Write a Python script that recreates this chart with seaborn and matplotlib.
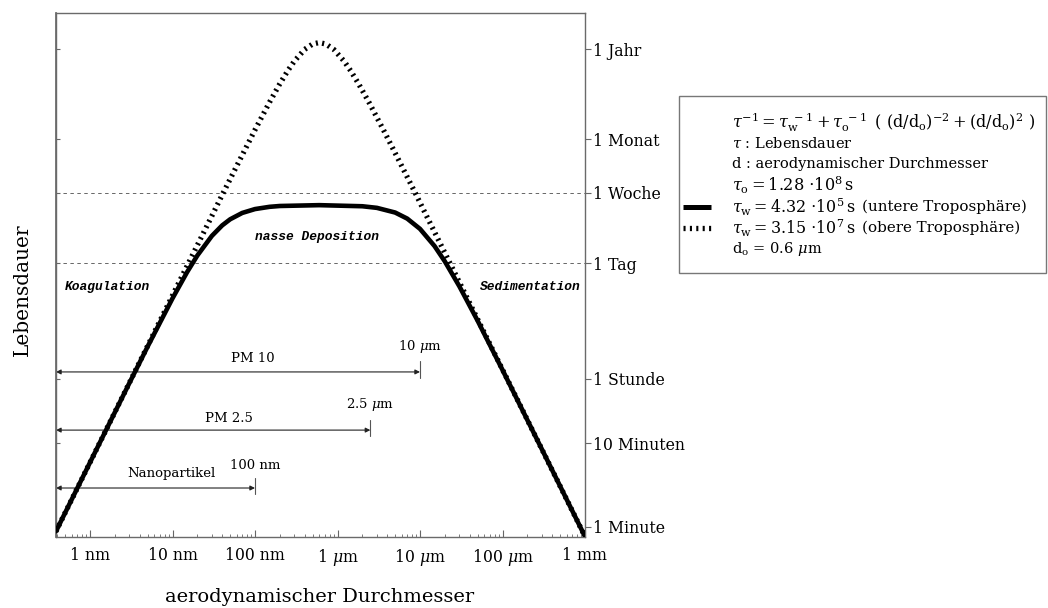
import numpy as np
import pandas as pd
import matplotlib
matplotlib.use("Agg")
import matplotlib.pyplot as plt
import matplotlib.ticker as mticker
from matplotlib.lines import Line2D
from matplotlib.patches import Rectangle
import seaborn as sns

# Aerodynamic diameter (nm) and atmospheric residence time (s), lower troposphere
diam_lower_nm = [0.387, 1, 3, 5, 10, 15, 20, 30, 40, 50, 70, 100, 150, 200, 600,
                 2000, 3000, 5000, 7000, 10000, 15000, 20000, 30000, 50000,
                 100000, 300000, 1000000]
life_lower_s = [53.3, 355.6, 3176, 8711, 32850, 67500, 107000, 183800, 245500,
                290700, 346200, 385200, 409800, 419300, 429100, 416300, 398300,
                350000, 296000, 223000, 138900, 90950, 45770, 17680, 4560, 512,
                46.1]

# Upper troposphere
diam_upper_nm = [0.387, 1, 10, 20, 30, 40, 60, 100, 150, 200, 250, 300, 400, 500,
                 600, 720, 900, 1200, 1440, 1800, 2400, 3600, 6000, 9000, 12000,
                 18000, 36000, 360000, 1000000]
life_upper_s = [53.3, 355.6, 35560, 142200, 318900, 568900, 1.263e6, 3.425e6,
                7.34e6, 1.221e7, 1.753e7, 2.278e7, 3.15e7, 3.654e7, 3.80e7,
                3.654e7, 3.15e7, 2.278e7, 1.753e7, 1.221e7, 7.34e6, 3.425e6,
                1.263e6, 568900, 318900, 142200, 35560, 355.6, 46.1]

time_ticks_s = [60, 600, 3600, 86400, 604800, 2.63e6, 3.156e7]
time_tick_labels = ["1 Minute", "10 Minuten", "1 Stunde", "1 Tag", "1 Woche",
                    "1 Monat", "1 Jahr"]
size_ticks_nm = [1, 10, 100, 1e3, 1e4, 1e5, 1e6]
size_tick_labels = ["1 nm", "10 nm", "100 nm", r"1 $\mu$m", r"10 $\mu$m",
                    r"100 $\mu$m", "1 mm"]

# Particle size classes
class_limits_nm = [1e4, 2500, 100]
class_names = ["PM 10", "PM 2.5", "Nanopartikel"]
class_limit_labels = [r"10 $\mu$m", r"2.5 $\mu$m", "100 nm"]

# Key text: (math part, plain part)
legend_lines = [
    (r"$\tau^{-1} = \tau_{\rm w}^{\ -1} + \tau_{\rm o}^{\ -1}\ \,(\ ({\rm d}/{\rm d_o})^{-2} + ({\rm d}/{\rm d_o})^{2}\ )$", ""),
    ("", r"$\tau$ : Lebensdauer"),
    ("", "d : aerodynamischer Durchmesser"),
    (r"$\tau_{\rm o} = 1.28\ {\cdot}10^{8}\,{\rm s}$", ""),
    (r"$\tau_{\rm w} = 4.32\ {\cdot}10^{5}\,{\rm s}$", "(untere Troposphäre)"),
    (r"$\tau_{\rm w} = 3.15\ {\cdot}10^{7}\,{\rm s}$", "(obere Troposphäre)"),
    ("", r"d$_{\rm o}$ = 0.6 $\mu$m"),
]

sns.set_theme(style="white")
plt.rcParams["font.family"] = ["DejaVu Serif"]
plt.rcParams["mathtext.fontset"] = "dejavuserif"
plt.rcParams["lines.scale_dashes"] = False
plt.rcParams["text.color"] = "black"
plt.rcParams["xtick.labelcolor"] = "black"
plt.rcParams["ytick.labelcolor"] = "black"

W, H = 1048, 608
fig = plt.figure(figsize=(W / 100, H / 100), dpi=100)


def fx(x):
    return x / W


def fy(y):
    return 1 - y / H


ax = fig.add_axes([fx(56), fy(537), fx(585) - fx(56), fy(13) - fy(537)])
ax.set_xscale("log")
ax.set_yscale("log")

df_low = pd.DataFrame({"d": diam_lower_nm, "tau": life_lower_s})
df_up = pd.DataFrame({"d": diam_upper_nm, "tau": life_upper_s})

sns.lineplot(data=df_low, x="d", y="tau", ax=ax, color="black", lw=3.3,
             sort=False, zorder=3)
sns.lineplot(data=df_up, x="d", y="tau", ax=ax, color="black", lw=3.8,
             sort=False, zorder=4)
dash_up = [1.5, 3.1]
ax.lines[-1].set_dashes(dash_up)
ax.lines[-1].set_dash_capstyle("butt")

ax.set_xlim(0.387, 1e6)
ax.set_ylim(45.5, 8.59e7)
ax.set_xlabel("")
ax.set_ylabel("")

# reference levels: one day, one week
for lvl in (86400, 604800):
    ax.axhline(lvl, color="#666666", lw=0.7, ls=(0, (2.5, 2.5)), zorder=1)

# axis styling
for sp in ax.spines.values():
    sp.set_visible(True)
    sp.set_color("#6a6a6a")
    sp.set_linewidth(1.0)

ax.set_xticks(size_ticks_nm, size_tick_labels)
ax.xaxis.set_minor_locator(mticker.LogLocator(base=10, subs=np.arange(2, 10) * 1.0, numticks=30))
ax.xaxis.set_minor_formatter(mticker.NullFormatter())
ax.tick_params(axis="x", which="major", direction="in", length=5, width=0.8,
               color="#666666", labelcolor="black", labelsize=11.3, pad=7,
               bottom=True, top=False)
ax.tick_params(axis="x", which="minor", direction="in", length=2.5, width=0.6,
               color="#666666", bottom=True, top=False)

ax.set_yticks(time_ticks_s, time_tick_labels)
ax.yaxis.set_minor_locator(mticker.NullLocator())
ax.yaxis.tick_right()
ax.tick_params(axis="y", which="major", direction="out", length=4, width=0.8,
               color="#666666", labelcolor="black", labelsize=11.3, pad=2,
               left=False, right=True, labelleft=False, labelright=True)

sec = ax.secondary_yaxis("left")
sec.set_yticks(time_ticks_s)
sec.yaxis.set_minor_locator(mticker.NullLocator())
sec.tick_params(axis="y", direction="in", length=3, width=0.8, color="#666666",
                labelleft=False)
sec.spines["left"].set_color("#6a6a6a")

# size class arrows
xtr = ax.get_xaxis_transform()
class_rows = [0.315, 0.204, 0.0935]
name_pos = [(0.372, 0.340), (0.327, 0.227), (0.219, 0.122)]
limit_lab_y = [0.3645, 0.252, 0.137]
for lim, row, name, npos, lab, ly in zip(class_limits_nm, class_rows, class_names,
                                         name_pos, class_limit_labels, limit_lab_y):
    ax.annotate("", xy=(lim, row), xytext=(0.387, row), xycoords=xtr, textcoords=xtr,
                arrowprops=dict(arrowstyle="<|-|>", lw=0.8, color="#222222",
                                mutation_scale=7, shrinkA=0, shrinkB=0), zorder=2)
    ax.plot([lim, lim], [row - 0.011, row + 0.02], transform=xtr, color="#555555",
            lw=0.8, zorder=2)
    ax.text(npos[0], npos[1], name, transform=ax.transAxes, ha="center",
            va="center", fontsize=9.5)
    ax.text(lim, ly, lab, transform=xtr, ha="center", va="center", fontsize=9.5)

# process labels
proc_font = dict(family=["Liberation Mono", "DejaVu Sans Mono"], weight="bold",
                 style="italic", fontsize=9.3)
ax.text(0.017, 0.477, "Koagulation", transform=ax.transAxes, ha="left",
        va="center", **proc_font)
ax.text(0.493, 0.5725, "nasse Deposition", transform=ax.transAxes, ha="center",
        va="center", **proc_font)
ax.text(0.992, 0.477, "Sedimentation", transform=ax.transAxes, ha="right",
        va="center", **proc_font)

# axis titles
fig.text(fx(22), fy(290), "Lebensdauer", rotation=90, ha="center", va="center",
         fontsize=14.5)
fig.text(fx(320), fy(597), "aerodynamischer Durchmesser", ha="center",
         va="center", fontsize=14)

# key box
fig.add_artist(Rectangle((fx(679), fy(273)), fx(1046) - fx(679), fy(96) - fy(273),
                         transform=fig.transFigure, fill=False, edgecolor="#777777",
                         lw=1.0))
row_y = [122, 143, 164.5, 185.5, 207, 228, 249]
for (math_part, plain_part), yy in zip(legend_lines, row_y):
    if math_part:
        fig.text(fx(732), fy(yy), math_part, ha="left", va="center",
                 fontsize=11.6 if not plain_part else 11.4)
    if plain_part:
        x0 = 862 if math_part else 732
        fig.text(fx(x0), fy(yy), plain_part, ha="left", va="center",
                 fontsize=10.9 if math_part else 10.5)
fig.add_artist(Line2D([fx(683), fx(711)], [fy(row_y[4])] * 2, transform=fig.transFigure,
                      color="black", lw=3.6, solid_capstyle="butt"))
fig.add_artist(Line2D([fx(683), fx(711)], [fy(row_y[5])] * 2, transform=fig.transFigure,
                      color="black", lw=3.8, dashes=dash_up, dash_capstyle="butt"))

fig.savefig("out.png", dpi=100)
